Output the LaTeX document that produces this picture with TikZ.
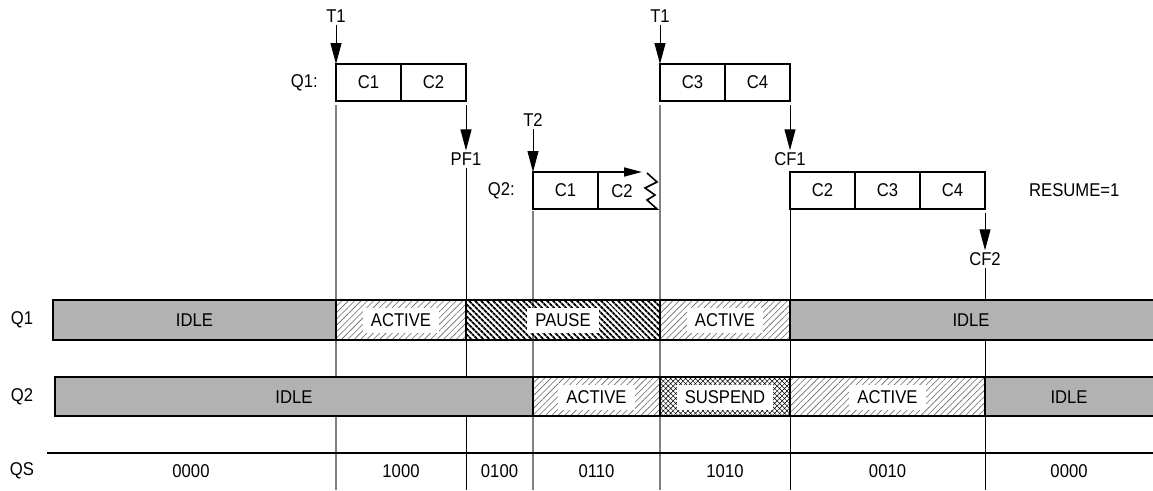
\documentclass[tikz,border=0pt]{standalone}
\usepackage{fontspec}
\setmainfont{Liberation Sans}[FakeStretch=0.9]
\usetikzlibrary{arrows.meta, positioning, patterns.meta}

\begin{document}
\begin{tikzpicture}[
    x=1pt, y=-1pt,
    font=\fontsize{18.5}{21}\selectfont,
    edge/.style={
        draw,
        line width=1.6pt
    },
    cell/.style={
        rectangle,
        edge,
        minimum width=65pt,
        minimum height=37pt,
        outer sep=0pt,
        inner sep=0pt
    },
    txt/.style={
        inner sep=2pt
    },
    flag/.style={
        line width=1pt,
        -{Triangle[length=21pt,width=11pt]}
    },
    tline/.style={
        line width=1.2pt,
        black!50
    },
    fline/.style={
        line width=1pt,
        black
    },
    idle/.style={
        edge,
        fill=black!30
    },
    active/.style={
        edge,
        pattern={Lines[angle=45,distance=4.5pt,line width=0.6pt]},
        pattern color=black!60
    },
    pause/.style={
        edge,
        pattern={Lines[angle=-45,distance=4pt,line width=2pt]}
    },
    suspend/.style={
        edge,
        pattern={Hatch[angle=45,distance=3.5pt,line width=0.5pt]}
    },
    tag/.style={
        fill=white,
        inner xsep=8pt,
        inner ysep=0pt,
        minimum height=25pt
    }
]

\useasboundingbox (0,0) rectangle (1153,490);
\coordinate (bot) at (0,490);

% ------------------------------------------------
% Queue Q1, first request
% ------------------------------------------------

\node[txt] (t1a) at (336,16) {T1};

\node[cell, anchor=north west] (q1c1) at (336,64) {C1};
\node[cell, right=0pt of q1c1] (q1c2) {C2};
\node[txt, left=16pt of q1c1] (q1name) {Q1:};

\node[txt] (pf1) at (466,159) {PF1};

% ------------------------------------------------
% Queue Q2, preempting request
% ------------------------------------------------

\node[txt] (t2) at (533,120) {T2};

\node[cell, anchor=north west] (q2c1) at (533,172) {C1};
\node[txt] (q2c2) at (622,191) {C2};
\node[txt, left=16pt of q2c1] (q2name) {Q2:};

% ------------------------------------------------
% Queue Q1, second request
% ------------------------------------------------

\node[txt] (t1b) at (660,16) {T1};

\node[cell, anchor=north west] (q1c3) at (660,64) {C3};
\node[cell, right=0pt of q1c3] (q1c4) {C4};

\node[txt] (cf1) at (790,159) {CF1};

% ------------------------------------------------
% Queue Q2, resumed request
% ------------------------------------------------

\node[cell, anchor=north west] (q2r1) at (790,172) {C2};
\node[cell, right=0pt of q2r1] (q2r2) {C3};
\node[cell, right=0pt of q2r2] (q2r3) {C4};
\node[txt, right=42pt of q2r3] (resume) {RESUME=1};

\node[txt] (cf2) at (985,259) {CF2};

% ------------------------------------------------
% Arrows: triggers and flags
% ------------------------------------------------

\draw[flag] (t1a) -- (q1c1.north west);
\draw[flag] (t2) -- (q2c1.north west);
\draw[flag] (t1b) -- (q1c3.north west);
\draw[flag] ([yshift=-4pt]q1c2.south east) -- (pf1);
\draw[flag] ([yshift=-4pt]q1c4.south east) -- (cf1);
\draw[flag] ([yshift=-4pt]q2r3.south east) -- (cf2);

% interrupted command C2
\draw[edge, -{Triangle[length=18pt,width=9pt]}] (q2c1.north east) -- ++(44,0);
\draw[edge] (q2c1.south east) -- ++(59,0) -- ++(-10,-9) -- ++(8,-5)
    -- ++(-10,-7) -- ++(12,-6) -- ++(-10,-9);

% ------------------------------------------------
% Time lines
% ------------------------------------------------

\draw[tline] ([yshift=-4pt]q1c1.south west) -- (q1c1.south west |- bot);
\draw[fline] (pf1.south) -- (pf1.south |- bot);
\draw[tline] ([yshift=-2pt]q2c1.south west) -- (q2c1.south west |- bot);
\draw[tline] ([yshift=-4pt]q1c3.south west) -- (q1c3.south west |- bot);
\draw[fline] (q2r1.south west) -- (q2r1.south west |- bot);
\draw[fline] (cf2.south) -- (cf2.south |- bot);

% ------------------------------------------------
% State bars
% ------------------------------------------------

\node[txt] (rowq1) at (22,320) {Q1};
\draw[idle] (53,300) rectangle (336,340);
\draw[active] (336,300) rectangle (466,340);
\draw[pause] (466,300) rectangle (660,340);
\draw[active] (660,300) rectangle (790,340);
\draw[idle] (790,300) rectangle (1160,340);
\node[txt] (q1s1) at (194.5,320) {IDLE};
\node[tag] (q1s2) at (401,320) {ACTIVE};
\node[tag] (q1s3) at (563,320) {PAUSE};
\node[tag] (q1s4) at (725,320) {ACTIVE};
\node[txt] (q1s5) at (971,320) {IDLE};

\node[txt] (rowq2) at (22,397) {Q2};
\draw[idle] (55,377) rectangle (533,416);
\draw[active] (533,377) rectangle (660,416);
\draw[suspend] (660,377) rectangle (790,416);
\draw[active] (790,377) rectangle (985,416);
\draw[idle] (985,377) rectangle (1160,416);
\node[txt] (q2s1) at (294,397) {IDLE};
\node[tag] (q2s2) at (596.5,397) {ACTIVE};
\node[tag] (q2s3) at (725,397) {SUSPEND};
\node[tag] (q2s4) at (887.5,397) {ACTIVE};
\node[txt] (q2s5) at (1069,397) {IDLE};

% ------------------------------------------------
% Queue status
% ------------------------------------------------

\coordinate (qsl) at (47,453);
\coordinate (qsr) at (1160,453);
\draw[edge, line width=2pt] (qsl) -- (qsr);

\node[txt] (rowqs) at (22,471) {QS};
\node[txt] (qs1) at (191,471) {0000};
\node[txt] (qs2) at (401,471) {1000};
\node[txt] (qs3) at (499.5,471) {0100};
\node[txt] (qs4) at (596.5,471) {0110};
\node[txt] (qs5) at (725,471) {1010};
\node[txt] (qs6) at (887.5,471) {0010};
\node[txt] (qs7) at (1069,471) {0000};

\end{tikzpicture}
\end{document}
